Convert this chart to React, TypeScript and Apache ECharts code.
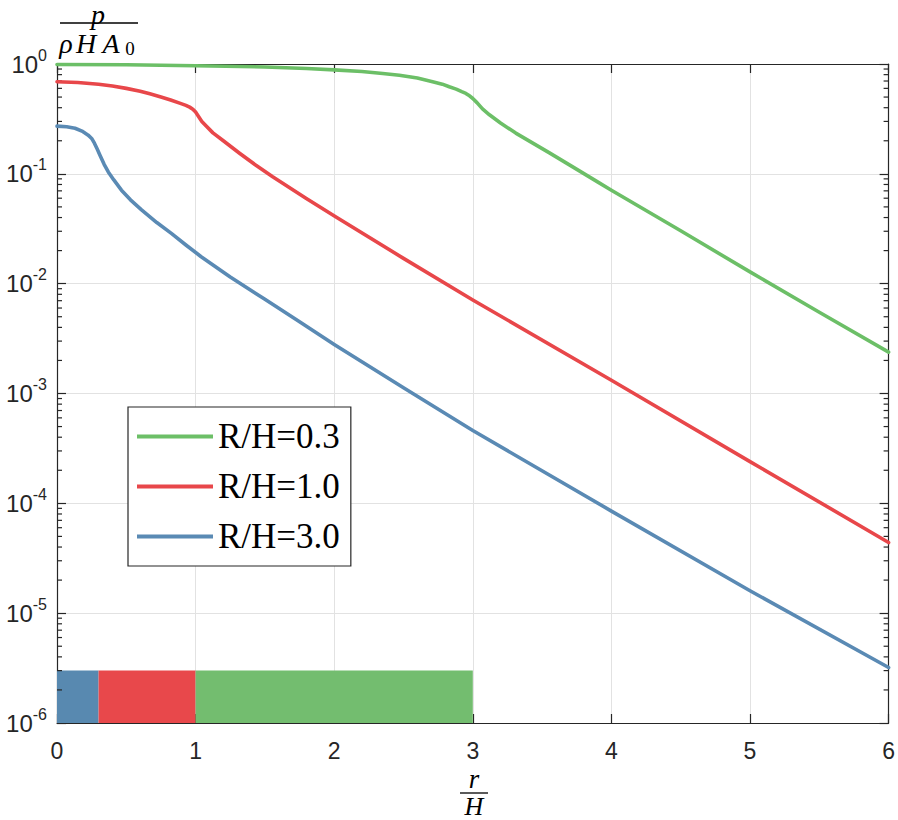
import React, { useEffect, useRef } from "react";
import * as echarts from "echarts";

const xTicks = [0, 1, 2, 3, 4, 5, 6];
const legendNames = ["R/H=0.3", "R/H=1.0", "R/H=3.0"];
const lineColors = ["#6CBF67", "#E8474A", "#5A8AB4"];

const curveGreen: [number, number][] = [
  [0, 0.99], [0.5, 0.985], [1, 0.965], [1.5, 0.94], [1.8, 0.91], [2, 0.885],
  [2.2, 0.855], [2.35, 0.82], [2.47, 0.79], [2.6, 0.745], [2.71, 0.69],
  [2.78, 0.655], [2.83, 0.62], [2.88, 0.59], [2.92, 0.56], [2.95, 0.54],
  [2.97, 0.52], [3.0, 0.485], [3.03, 0.445], [3.07, 0.39], [3.12, 0.345],
  [3.2, 0.29], [3.31, 0.235], [3.55, 0.156], [3.7, 0.12], [3.9, 0.0845],
  [4, 0.071], [4.5, 0.0303], [5, 0.0128], [5.5, 0.0055], [6, 0.00238],
];
const curveRed: [number, number][] = [
  [0, 0.69], [0.15, 0.678], [0.3, 0.655], [0.4, 0.63], [0.5, 0.6], [0.6, 0.565],
  [0.67, 0.535], [0.75, 0.5], [0.82, 0.47], [0.885, 0.44], [0.93, 0.42],
  [0.957, 0.405], [0.98, 0.388], [1.0, 0.365], [1.02, 0.335], [1.045, 0.3],
  [1.08, 0.27], [1.125, 0.236], [1.2, 0.2], [1.317, 0.154], [1.43, 0.121],
  [1.556, 0.094], [1.796, 0.06], [2.01, 0.0407], [2.5, 0.017], [3, 0.0071],
  [4, 0.00132], [5, 0.00024], [6, 4.4e-5],
];
const curveBlue: [number, number][] = [
  [0, 0.272], [0.07, 0.268], [0.13, 0.26], [0.18, 0.245], [0.225, 0.225],
  [0.25, 0.21], [0.27, 0.19], [0.29, 0.168], [0.31, 0.148], [0.34, 0.122],
  [0.37, 0.104], [0.41, 0.088], [0.465, 0.071], [0.53, 0.058], [0.61, 0.047],
  [0.72, 0.036], [0.825, 0.0287], [0.93, 0.0225], [1.04, 0.0176],
  [1.25, 0.0115], [1.5, 0.0072], [1.75, 0.0045], [2, 0.0028], [2.5, 0.00113],
  [3, 4.6e-4], [4, 8.5e-5], [5, 1.6e-5], [6, 3.2e-6],
];

const barStarts = [0, 0.3, 1];
const barEnds = [0.3, 1, 3];
const barBase = 1e-6;
const barTop = 3e-6;
const barColors = ["#5889B0", "#E8484B", "#73BD6F"];

const minorTicks: number[] = [];
for (let e = -6; e < 0; e++) {
  for (let m = 2; m <= 9; m++) minorTicks.push(m * Math.pow(10, e));
}

const AX = "#262626";
const SANS = "Liberation Sans, Arial, Helvetica, sans-serif";
const SERIF = "Liberation Serif, Times New Roman, serif";

export default function App() {
  const ref = useRef<HTMLDivElement>(null);
  useEffect(() => {
    if (!ref.current) return;
    const chart = echarts.init(ref.current, undefined, { renderer: "svg" });
    const yLabelFmt = (v: number) => {
      const e = Math.round(Math.log10(v));
      return "{b|10}{s|" + e + "}";
    };
    const option: any = {
      animation: false,
      backgroundColor: "#fff",
      grid: { left: 57, right: 7, top: 64, bottom: 97, containLabel: false },
      xAxis: [
        {
          type: "value", min: 0, max: 6, interval: 1, position: "bottom",
          axisLine: { show: true, onZero: false, lineStyle: { color: AX, width: 1.2 } },
          axisTick: { show: true, inside: true, length: 9, lineStyle: { color: AX, width: 1.2 } },
          axisLabel: {
            margin: 16, fontSize: 23, color: AX, fontFamily: SANS,
            formatter: (v: number) => (xTicks.includes(v) ? String(v) : ""),
          },
          splitLine: { show: true, lineStyle: { color: "#e2e2e2", width: 1 } },
        },
        {
          type: "value", min: 0, max: 6, interval: 1, position: "top",
          axisLine: { show: true, onZero: false, lineStyle: { color: AX, width: 1.2 } },
          axisTick: { show: true, inside: true, length: 9, lineStyle: { color: AX, width: 1.2 } },
          axisLabel: { show: false },
          splitLine: { show: false },
        },
      ],
      yAxis: [
        {
          type: "log", logBase: 10, min: 1e-6, max: 1, position: "left",
          axisLine: { show: true, onZero: false, lineStyle: { color: AX, width: 1.2 } },
          axisTick: { show: true, inside: true, length: 9, lineStyle: { color: AX, width: 1.2 } },
          axisLabel: {
            margin: 10, formatter: yLabelFmt,
            rich: {
              b: { fontSize: 24, lineHeight: 34, color: AX, fontFamily: SANS },
              s: { fontSize: 16, lineHeight: 16, verticalAlign: "top", color: AX, fontFamily: SANS },
            },
          },
          splitLine: { show: true, lineStyle: { color: "#e2e2e2", width: 1 } },
          minorTick: { show: false },
        },
        {
          type: "log", logBase: 10, min: 1e-6, max: 1, position: "right",
          axisLine: { show: true, onZero: false, lineStyle: { color: AX, width: 1.2 } },
          axisTick: { show: true, inside: true, length: 9, lineStyle: { color: AX, width: 1.2 } },
          axisLabel: { show: false },
          splitLine: { show: false },
        },
      ],
      legend: {
        data: legendNames,
        orient: "vertical",
        left: 128, top: 407,
        padding: [12, 11, 12, 9],
        itemGap: 15,
        itemWidth: 76, itemHeight: 4,
        icon: "rect",
        borderColor: AX, borderWidth: 1.2,
        backgroundColor: "#fff",
        textStyle: { fontFamily: SERIF, fontSize: 35, color: "#000" },
      },
      series: [
        {
          name: "bars", type: "custom", xAxisIndex: 0, yAxisIndex: 0,
          data: barStarts.map((s, i) => [s, barEnds[i], i]),
          renderItem: (params: any, api: any) => {
            const i = api.value(2);
            const p0 = api.coord([api.value(0), barTop]);
            const p1 = api.coord([api.value(1), barBase]);
            return {
              type: "rect",
              shape: { x: p0[0], y: p0[1], width: p1[0] - p0[0], height: p1[1] - p0[1] },
              style: { fill: barColors[i] },
            };
          },
          z: 3, silent: true,
        },
        {
          name: "minor", type: "custom", xAxisIndex: 0, yAxisIndex: 0,
          data: minorTicks.map((v) => [0, v]),
          renderItem: (params: any, api: any) => {
            const v = api.value(1);
            const a = api.coord([0, v]);
            const b = api.coord([6, v]);
            return {
              type: "group",
              children: [
                { type: "line", shape: { x1: a[0], y1: a[1], x2: a[0] + 5, y2: a[1] }, style: { stroke: AX, lineWidth: 1.2 } },
                { type: "line", shape: { x1: b[0] - 5, y1: b[1], x2: b[0], y2: b[1] }, style: { stroke: AX, lineWidth: 1.2 } },
              ],
            };
          },
          z: 4, silent: true,
        },
        ...[curveGreen, curveRed, curveBlue].map((d, i) => ({
          name: legendNames[i],
          type: "line",
          data: d,
          showSymbol: false,
          symbol: "none",
          smooth: false,
          clip: false,
          color: lineColors[i],
          lineStyle: { color: lineColors[i], width: 3.6, join: "round", cap: "round" },
          z: 5,
        })),
      ],
      graphic: [
        { type: "text", x: 98, y: 14, style: { text: "p", font: "italic 28px " + SERIF, fill: "#000", textAlign: "center", textVerticalAlign: "middle" } },
        { type: "line", shape: { x1: 60, y1: 23, x2: 138, y2: 23 }, style: { stroke: "#000", lineWidth: 1.3 } },
        { type: "text", x: 66, y: 43, style: { text: "ρ", font: "italic 28px " + SERIF, fill: "#000", textAlign: "center", textVerticalAlign: "middle" } },
        { type: "text", x: 86, y: 43, style: { text: "H", font: "italic 28px " + SERIF, fill: "#000", textAlign: "center", textVerticalAlign: "middle" } },
        { type: "text", x: 111, y: 43, style: { text: "A", font: "italic 28px " + SERIF, fill: "#000", textAlign: "center", textVerticalAlign: "middle" } },
        { type: "text", x: 130, y: 48, style: { text: "0", font: "19px " + SERIF, fill: "#000", textAlign: "center", textVerticalAlign: "middle" } },
        { type: "text", x: 474, y: 779, style: { text: "r", font: "italic 27px " + SERIF, fill: "#000", textAlign: "center", textVerticalAlign: "middle" } },
        { type: "line", shape: { x1: 460, y1: 793, x2: 488, y2: 793 }, style: { stroke: "#000", lineWidth: 1.3 } },
        { type: "text", x: 474, y: 806, style: { text: "H", font: "italic 26px " + SERIF, fill: "#000", textAlign: "center", textVerticalAlign: "middle" } },
      ],
    };
    chart.setOption(option);
    return () => chart.dispose();
  }, []);
  return (
    <div
      ref={ref}
      style={{ position: "absolute", left: 0, top: 0, width: 898, height: 820 }}
    />
  );
}
